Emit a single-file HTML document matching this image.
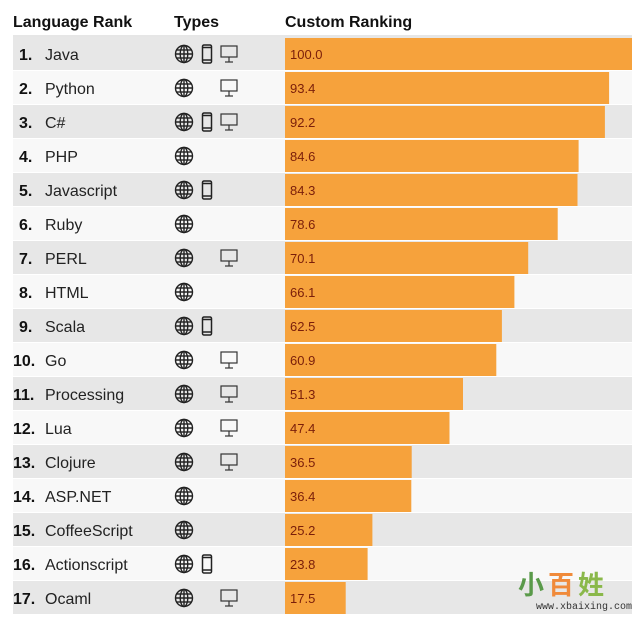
<!DOCTYPE html><html><head><style>body{margin:0;background:#fff}svg{display:block;font-family:"Liberation Sans",sans-serif}</style></head><body>
<svg width="640" height="621" viewBox="0 0 640 621">
<defs>
<g id="g" fill="none" stroke="#222" stroke-width="1.4"><circle r="8.5"/><ellipse rx="3.8" ry="8.5"/><line x1="-8.5" x2="8.5"/><line x1="-7.6" x2="7.6" y1="-4" y2="-4"/><line x1="-7.6" x2="7.6" y1="4" y2="4"/><line y1="-8.5" y2="8.5"/></g>
<g id="p" fill="none" stroke="#222" stroke-width="1.5"><rect x="-4.5" y="-9" width="9" height="18" rx="1.5"/><line x1="-4.5" x2="4.5" y1="-6.5" y2="-6.5"/><line x1="-4.5" x2="4.5" y1="6" y2="6"/></g>
<g id="m" fill="none" stroke="#333" stroke-width="1.2"><rect x="-8" y="-8" width="16" height="11"/><line y1="3" y2="8"/><line x1="-4" x2="4" y1="8" y2="8"/></g>
</defs>
<g font-weight="bold" font-size="16" fill="#111"><text x="13" y="27">Language Rank</text><text x="174" y="27">Types</text><text x="285" y="27">Custom Ranking</text></g>
<line x1="13" x2="632" y1="36" y2="36" stroke="#ccc"/>
<g id="rows"></g>
</svg>
<script>
var d=[["Java",100,"gpm"],["Python",93.4,"gm"],["C#",92.2,"gpm"],["PHP",84.6,"g"],["Javascript",84.3,"gp"],["Ruby",78.6,"g"],["PERL",70.1,"gm"],["HTML",66.1,"g"],["Scala",62.5,"gp"],["Go",60.9,"gm"],["Processing",51.3,"gm"],["Lua",47.4,"gm"],["Clojure",36.5,"gm"],["ASP.NET",36.4,"g"],["CoffeeScript",25.2,"g"],["Actionscript",23.8,"gp"],["Ocaml",17.5,"gm"]];
var s="",N="http://www.w3.org/2000/svg";
d.forEach(function(r,i){var t=37+34*i,c=t+17;
s+='<rect x="13" y="'+t+'" width="619" height="33" fill="'+(i%2==0?'#e7e7e7':'#f8f8f8')+'"/>';
s+='<text x="'+(i<9?19:13)+'" y="'+(c+6)+'" font-size="16" font-weight="bold" fill="#111">'+(i+1)+'.</text>';
s+='<text x="45" y="'+(c+6)+'" font-size="16" fill="#222">'+r[0]+'</text>';
if(r[2].indexOf("g")>=0)s+='<use href="#g" x="184" y="'+c+'"/>';
if(r[2].indexOf("p")>=0)s+='<use href="#p" x="207" y="'+c+'"/>';
if(r[2].indexOf("m")>=0)s+='<use href="#m" x="229" y="'+c+'"/>';
s+='<rect x="285" y="'+(t+1)+'" width="'+(347*r[1]/100).toFixed(1)+'" height="32" fill="#f6a23c"/>';
s+='<text x="290" y="'+(c+5)+'" font-size="13" fill="#7a1e0a">'+r[1].toFixed(1)+'</text>';});
document.getElementById("rows").innerHTML=s;
</script>
<div style="position:absolute;left:518px;top:565px;font:bold 26px 'Noto Sans CJK SC',sans-serif;letter-spacing:4px"><span style="color:#5a9a4a">小</span><span style="color:#f08a3a">百</span><span style="color:#8ab84a">姓</span></div>
<div style="position:absolute;left:536px;top:602px;font:10px 'Liberation Mono',monospace;color:#333">www.xbaixing.com</div>
</body></html>
